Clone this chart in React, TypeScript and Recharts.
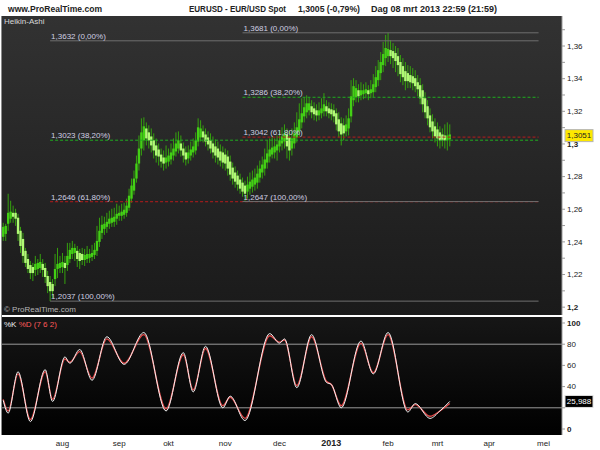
import { Bar, CartesianGrid, ComposedChart, Line, ReferenceLine, XAxis, YAxis } from 'recharts';

const FONT = '"Liberation Sans", Arial, sans-serif';

// Heikin-Ashi candles, daily, 28 jun 2012 .. 8 mrt 2013
const haOpen = [
  1.2431, 1.2449, 1.2511, 1.2542, 1.2578, 1.2578, 1.2548, 1.2468, 1.2418, 1.2345,
  1.2295, 1.2258, 1.2246, 1.2228, 1.2234, 1.224, 1.2265, 1.224, 1.2191, 1.2154,
  1.2142, 1.2172, 1.2234, 1.224, 1.2246, 1.2271, 1.2258, 1.2295, 1.2326, 1.2332,
  1.2345, 1.2332, 1.2326, 1.2289, 1.2295, 1.2302, 1.2308, 1.232, 1.2345, 1.24,
  1.2455, 1.248, 1.2492, 1.2511, 1.2517, 1.2523, 1.2542, 1.256, 1.256, 1.2566,
  1.2578, 1.2609, 1.2665, 1.2714, 1.2788, 1.288, 1.2972, 1.3022, 1.3095, 1.3071,
  1.3046, 1.3022, 1.2991, 1.2966, 1.2935, 1.2917, 1.2886, 1.2892, 1.2905, 1.2929,
  1.2954, 1.2972, 1.3003, 1.2972, 1.2948, 1.2911, 1.2929, 1.2948, 1.296, 1.3015,
  1.304, 1.3077, 1.3058, 1.304, 1.3022, 1.3003, 1.2985, 1.2972, 1.2954, 1.2948,
  1.2935, 1.2923, 1.2892, 1.2855, 1.2825, 1.2806, 1.2782, 1.2763, 1.2745, 1.2708,
  1.2726, 1.2738, 1.2751, 1.2763, 1.2794, 1.2825, 1.2849, 1.2886, 1.2923, 1.2935,
  1.2948, 1.296, 1.2985, 1.3003, 1.3015, 1.3058, 1.304, 1.2972, 1.3003, 1.304,
  1.3077, 1.3132, 1.3169, 1.3194, 1.3206, 1.3231, 1.3218, 1.3206, 1.3175, 1.3188,
  1.32, 1.3231, 1.3218, 1.3212, 1.3206, 1.3188, 1.3151, 1.3126, 1.3114, 1.3077,
  1.3095, 1.3169, 1.3268, 1.3286, 1.3329, 1.3298, 1.3305, 1.3311, 1.3329, 1.3311,
  1.3317, 1.3348, 1.3391, 1.3434, 1.3483, 1.3526, 1.3538, 1.3575, 1.3569, 1.3557,
  1.3538, 1.3502, 1.3477, 1.3446, 1.3434, 1.3422, 1.3415, 1.3403, 1.3378, 1.336,
  1.3329, 1.328, 1.3231, 1.3175, 1.3138, 1.3108, 1.3089, 1.3071, 1.3058, 1.3052,
  1.3022, 1.3028,
];
const haClose = [
  1.2492, 1.2498, 1.2578, 1.2585, 1.2554, 1.2542, 1.2449, 1.2375, 1.2314, 1.2271,
  1.2234, 1.2209, 1.2209, 1.2265, 1.2271, 1.2277, 1.2228, 1.2185, 1.2129, 1.2098,
  1.2098, 1.2234, 1.2265, 1.2271, 1.2277, 1.224, 1.2314, 1.2351, 1.2363, 1.2363,
  1.2295, 1.2283, 1.2289, 1.232, 1.2326, 1.2326, 1.2332, 1.2351, 1.2406, 1.2468,
  1.2505, 1.2511, 1.2523, 1.2542, 1.2548, 1.2554, 1.2572, 1.2578, 1.2585, 1.2597,
  1.2622, 1.2683, 1.2745, 1.2788, 1.288, 1.2972, 1.3071, 1.3108, 1.3034, 1.3022,
  1.2991, 1.296, 1.2929, 1.2923, 1.2892, 1.288, 1.2917, 1.2929, 1.2948, 1.2972,
  1.3003, 1.3022, 1.296, 1.2929, 1.2905, 1.2948, 1.2966, 1.2985, 1.3022, 1.3102,
  1.3095, 1.304, 1.3015, 1.2997, 1.2972, 1.2948, 1.2929, 1.2917, 1.2898, 1.2886,
  1.288, 1.2849, 1.2812, 1.2788, 1.2769, 1.2751, 1.2726, 1.2708, 1.2695, 1.2751,
  1.2769, 1.2782, 1.2794, 1.2818, 1.2849, 1.2874, 1.2905, 1.2942, 1.2966, 1.2978,
  1.2985, 1.2997, 1.3022, 1.3046, 1.3065, 1.2985, 1.296, 1.3034, 1.3065, 1.3102,
  1.3151, 1.3188, 1.3225, 1.3249, 1.3249, 1.3194, 1.3182, 1.3175, 1.3206, 1.3218,
  1.3243, 1.32, 1.3188, 1.3182, 1.3169, 1.312, 1.3077, 1.3058, 1.3065, 1.312,
  1.3157, 1.3292, 1.3354, 1.3342, 1.3292, 1.3329, 1.3329, 1.3335, 1.3305, 1.3335,
  1.3366, 1.3409, 1.3452, 1.3502, 1.3551, 1.3588, 1.3582, 1.3538, 1.3526, 1.3508,
  1.3483, 1.3428, 1.3409, 1.3385, 1.3385, 1.3378, 1.3372, 1.3354, 1.3335, 1.328,
  1.3243, 1.3194, 1.3157, 1.3102, 1.3077, 1.3046, 1.3034, 1.3022, 1.3022, 1.3022,
  1.3052, 1.3058,
];
const haHigh = [
  1.2517, 1.2511, 1.2695, 1.2652, 1.2622, 1.2603, 1.2572, 1.2492, 1.2455, 1.2363,
  1.2326, 1.2283, 1.2271, 1.2314, 1.2295, 1.2326, 1.2295, 1.2271, 1.2222, 1.2191,
  1.2172, 1.2326, 1.2363, 1.2314, 1.2332, 1.2314, 1.2394, 1.2394, 1.2406, 1.2388,
  1.2375, 1.2357, 1.2363, 1.2357, 1.2375, 1.2357, 1.2382, 1.2394, 1.2498, 1.2548,
  1.256, 1.2554, 1.2578, 1.2591, 1.2603, 1.2609, 1.2634, 1.2622, 1.2634, 1.264,
  1.2665, 1.2726, 1.2788, 1.2837, 1.2929, 1.3052, 1.3157, 1.3163, 1.3132, 1.3114,
  1.3095, 1.3065, 1.3034, 1.3003, 1.2972, 1.296, 1.2991, 1.2972, 1.3003, 1.3034,
  1.3071, 1.3077, 1.3052, 1.3009, 1.2985, 1.2991, 1.3015, 1.3034, 1.3071, 1.3157,
  1.3145, 1.3114, 1.3095, 1.3077, 1.3065, 1.3046, 1.3028, 1.3015, 1.2997, 1.2985,
  1.2972, 1.296, 1.2929, 1.2886, 1.2862, 1.2837, 1.2818, 1.2794, 1.2775, 1.28,
  1.2825, 1.2837, 1.2849, 1.2868, 1.2898, 1.2923, 1.2972, 1.3022, 1.3034, 1.3046,
  1.3034, 1.3052, 1.3083, 1.3102, 1.312, 1.3095, 1.3083, 1.3095, 1.3132, 1.3194,
  1.3249, 1.328, 1.3286, 1.3298, 1.3286, 1.3268, 1.3255, 1.3243, 1.3255, 1.328,
  1.3311, 1.3268, 1.3255, 1.3249, 1.3243, 1.3218, 1.3194, 1.3163, 1.3157, 1.3175,
  1.3218, 1.3391, 1.3403, 1.3391, 1.3366, 1.3378, 1.3366, 1.3378, 1.336, 1.3391,
  1.3428, 1.3477, 1.3514, 1.3563, 1.3625, 1.3668, 1.3681, 1.3637, 1.3618, 1.36,
  1.3588, 1.3545, 1.3526, 1.3502, 1.3483, 1.3477, 1.3465, 1.3452, 1.3422, 1.3403,
  1.3366, 1.3317, 1.3268, 1.3218, 1.3182, 1.3157, 1.3132, 1.3108, 1.3095, 1.312,
  1.3132, 1.312,
];
const haLow = [
  1.2406, 1.2406, 1.2468, 1.2517, 1.2517, 1.2498, 1.2406, 1.2332, 1.2271, 1.2246,
  1.2209, 1.2172, 1.216, 1.2191, 1.2197, 1.2209, 1.2185, 1.2148, 1.2086, 1.2037,
  1.2055, 1.2129, 1.2178, 1.2209, 1.2209, 1.2142, 1.2222, 1.2271, 1.2295, 1.2283,
  1.2246, 1.2234, 1.2258, 1.2252, 1.2271, 1.2271, 1.2283, 1.2295, 1.2314, 1.2369,
  1.2418, 1.2443, 1.2455, 1.248, 1.2492, 1.2492, 1.2505, 1.2529, 1.2529, 1.2542,
  1.2554, 1.2591, 1.264, 1.2689, 1.2763, 1.2837, 1.2929, 1.296, 1.2991, 1.2972,
  1.2948, 1.2911, 1.2886, 1.2868, 1.2855, 1.2837, 1.2849, 1.2862, 1.2874, 1.2898,
  1.2923, 1.2942, 1.2923, 1.2886, 1.2868, 1.288, 1.2898, 1.2917, 1.2935, 1.2985,
  1.3015, 1.3009, 1.2985, 1.296, 1.2942, 1.2911, 1.2886, 1.2874, 1.2862, 1.2849,
  1.2837, 1.2806, 1.2775, 1.2751, 1.2732, 1.2714, 1.2695, 1.2677, 1.2652, 1.2665,
  1.2689, 1.2702, 1.2714, 1.2726, 1.2763, 1.2788, 1.2806, 1.2849, 1.2886, 1.2911,
  1.2911, 1.2898, 1.2948, 1.296, 1.2972, 1.2911, 1.2898, 1.2929, 1.2972, 1.3009,
  1.3046, 1.3095, 1.3132, 1.3157, 1.3175, 1.3157, 1.3145, 1.3138, 1.3145, 1.3157,
  1.3169, 1.3169, 1.3157, 1.3145, 1.3132, 1.3083, 1.304, 1.2991, 1.3022, 1.3046,
  1.3052, 1.3132, 1.3231, 1.3255, 1.3255, 1.3268, 1.3274, 1.328, 1.3268, 1.328,
  1.3286, 1.3317, 1.3354, 1.3391, 1.344, 1.3477, 1.3502, 1.3489, 1.3465, 1.344,
  1.3415, 1.3378, 1.336, 1.3329, 1.3342, 1.3342, 1.3329, 1.3317, 1.3292, 1.3243,
  1.3194, 1.3157, 1.3114, 1.3071, 1.3034, 1.3009, 1.2985, 1.2972, 1.2985, 1.2972,
  1.296, 1.2985,
];

// Stochastic %K / %D (7 6 2), read at the turning points (bar index)
const stochIdx = [0, 2, 6, 11, 17, 20, 25, 27, 31, 36, 42, 49, 57, 66, 73, 77, 82, 89, 92, 98, 108, 112, 114, 119, 125, 131, 133, 137, 145, 150, 156, 164, 167, 173, 177, 181];
const stochK = [27, 15, 54, 7, 56, 26, 68, 62, 75, 46, 87, 61, 91, 17, 72, 35, 78, 20, 31, 8, 90, 81, 85, 39, 89, 44, 42, 20, 83, 52, 91, 16, 24, 10, 17, 26];
const stochD = [28, 17, 52, 9, 54, 28, 66, 63, 73, 48, 85, 62, 89, 19, 70, 37, 76, 22, 30, 10, 88, 82, 84, 41, 87, 45, 42, 22, 81, 53, 89, 18, 23, 12, 17, 24];

// first trading day of each month (bar index) and its label
const monthTicks = [24, 47, 67, 90, 112, 133, 156, 176, 197, 219];
const monthLabels = ['aug', 'sep', 'okt', 'nov', 'dec', '2013', 'feb', 'mrt', 'apr', 'mei'];

// Fibonacci retracements
const fibLevels = [1.3632, 1.3023, 1.2646, 1.2037, 1.3681, 1.3286, 1.3042, 1.2647];
const fibLabels = ['1,3632 (0,00%)', '1,3023 (38,20%)', '1,2646 (61,80%)', '1,2037 (100,00%)', '1,3681 (0,00%)', '1,3286 (38,20%)', '1,3042 (61,80%)', '1,2647 (100,00%)'];
const fibFrom = [19, 19, 19, 19, 97, 97, 97, 97];
const fibTo = [217, 217, 217, 217, 217, 217, 217, 217];

const priceTicks = [1.2, 1.21, 1.22, 1.23, 1.24, 1.25, 1.26, 1.27, 1.28, 1.29, 1.3, 1.31, 1.32, 1.33, 1.34, 1.35, 1.36, 1.37];
const stochTicks = [0, 20, 40, 60, 80, 100];
const stochLines = [80, 20];

const lastPrice = 1.3051;
const lastStoch = 25.988;
const SLOTS = 227; // bars + empty space up to mei

const rows = Array.from({ length: SLOTS }, (_, i) => {
  const row: any = { i };
  if (i < haOpen.length) {
    row.o = haOpen[i];
    row.c = haClose[i];
    row.h = haHigh[i];
    row.l = haLow[i];
    row.range = [haLow[i], haHigh[i]];
  }
  const s = stochIdx.indexOf(i);
  if (s >= 0) {
    row.k = stochK[s];
    row.d = stochD[s];
  }
  return row;
});

const Candle = (props: any) => {
  const { x, y, width, height, payload } = props;
  if (!payload || payload.h == null || !isFinite(y) || !isFinite(height)) return null;
  const top = Math.min(y, y + height);
  const full = Math.abs(height);
  const k = full / (payload.h - payload.l || 1);
  const bTop = top + (payload.h - Math.max(payload.o, payload.c)) * k;
  const bBot = top + (payload.h - Math.min(payload.o, payload.c)) * k;
  const cx = x + width / 2;
  const bull = payload.c >= payload.o;
  return (
    <g>
      <line x1={cx} x2={cx} y1={top} y2={top + full} stroke="#35a10e" strokeWidth={1} />
      <rect x={cx - 1.2} y={bTop} width={2.4} height={Math.max(1, bBot - bTop)} fill={bull ? '#43d015' : '#b0fa74'} />
    </g>
  );
};

const PriceTick = (props: any) => {
  const { x, y, payload } = props;
  const v = payload.value as number;
  const cents = Math.round(v * 100);
  if (cents % 2 !== 0) return null;
  const txt = v.toFixed(2).replace(/0$/, '').replace('.', ',');
  return (
    <text x={x} y={y} dy="0.35em" fontSize={8} fontFamily={FONT} fill="#222" fontWeight={cents % 10 === 0 ? 'bold' : 'normal'}>
      {txt}
    </text>
  );
};

const StochTick = (props: any) => {
  const { x, y, payload } = props;
  const v = payload.value as number;
  // the 20 label sits under the last-value tag, as in the original
  if (Math.abs(v - lastStoch) < 8) return null;
  return (
    <text x={x} y={y} dy="0.35em" fontSize={8} fontFamily={FONT} fill="#222" fontWeight={v === 0 || v === 100 ? 'bold' : 'normal'}>
      {v}
    </text>
  );
};

const MonthTick = (props: any) => {
  const { x, y, payload } = props;
  const label = monthLabels[monthTicks.indexOf(payload.value)];
  const bold = label === '2013';
  return (
    <text x={x} y={y} dy="0.71em" textAnchor="middle" fontSize={bold ? 9 : 8} fontFamily={FONT} fill="#222" fontWeight={bold ? 'bold' : 'normal'}>
      {label}
    </text>
  );
};

const fibStyle = (label: string) => {
  if (label.includes('38,20')) return { stroke: '#1fae1f', dash: '3 2' };
  if (label.includes('61,80')) return { stroke: '#b81c1c', dash: '3 2' };
  return { stroke: '#6e6e6e', dash: undefined };
};

const tagLabel = (text: string, fill: string, color: string, border: string) => (p: any) => {
  const vb = p.viewBox;
  if (!vb) return null;
  const x = vb.x + vb.width + 3;
  return (
    <g>
      <rect x={x} y={vb.y - 6} width={28} height={12} fill={fill} stroke={border} strokeWidth={1} />
      <text x={x + 14} y={vb.y} dy="0.35em" textAnchor="middle" fontSize={8} fontFamily={FONT} fill={color}>
        {text}
      </text>
    </g>
  );
};

export default function App() {
  return (
    <div style={{ position: 'fixed', left: 0, top: 0, width: 600, height: 450, background: '#fff', fontFamily: FONT, overflow: 'hidden' }}>
      <svg width={600} height={16} style={{ position: 'absolute', left: 0, top: 0 }}>
        <text x={8} y={12} fontSize={9} fontWeight="bold" fill="#222" textLength={94} lengthAdjust="spacingAndGlyphs">www.ProRealTime.com</text>
        <text x={189} y={12} fontSize={9} fontWeight="bold" fill="#222" textLength={97} lengthAdjust="spacingAndGlyphs">EURUSD - EUR/USD Spot</text>
        <text x={298} y={12} fontSize={9} fontWeight="bold" fill="#222" textLength={62} lengthAdjust="spacingAndGlyphs">1,3005 (-0,79%)</text>
        <text x={371} y={12} fontSize={9} fontWeight="bold" fill="#222" textLength={126} lengthAdjust="spacingAndGlyphs">Dag 08 mrt 2013 22:59 (21:59)</text>
      </svg>

      <div style={{ position: 'absolute', left: 0, top: 16 }}>
        <ComposedChart width={600} height={299} data={rows} margin={{ top: 0, right: 0, bottom: 0, left: 2 }}>
          <defs>
            <linearGradient id="mainBg" x1="0" y1="0" x2="0" y2="1">
              <stop offset="0%" stopColor="#323232" />
              <stop offset="100%" stopColor="#1a1a1a" />
            </linearGradient>
          </defs>
          <CartesianGrid horizontal={false} vertical={false} fill="url(#mainBg)" />
          <XAxis dataKey="i" type="category" hide />
          <YAxis
            orientation="right"
            width={38}
            domain={[1.1952, 1.3784]}
            type="number"
            ticks={priceTicks}
            interval={0}
            allowDataOverflow
            tick={<PriceTick />}
            tickSize={3}
            tickMargin={2}
            axisLine={{ stroke: '#9a9a9a' }}
            tickLine={{ stroke: '#9a9a9a' }}
          />
          {fibLevels.map((lv, n) => {
            const st = fibStyle(fibLabels[n]);
            return (
              <ReferenceLine
                key={`fib-${n}`}
                segment={[{ x: fibFrom[n], y: lv }, { x: fibTo[n], y: lv }]}
                stroke={st.stroke}
                strokeDasharray={st.dash}
                strokeWidth={1}
                label={(p: any) =>
                  p.viewBox ? (
                    <text x={p.viewBox.x + 1} y={p.viewBox.y - 2} fontSize={8} fontFamily={FONT} fill="#cfcfe2">
                      {fibLabels[n]}
                    </text>
                  ) : null
                }
              />
            );
          })}
          <Bar dataKey="range" shape={<Candle />} isAnimationActive={false} />
          <ReferenceLine y={lastPrice} stroke="none" label={tagLabel('1,3051', '#fde800', '#222', '#b5b5b5')} />
        </ComposedChart>
      </div>

      <div style={{ position: 'absolute', left: 4, top: 17, fontSize: 8, color: '#d8d8d8', lineHeight: '10px' }}>Heikin-Ashi</div>
      <div style={{ position: 'absolute', left: 4, top: 305, fontSize: 8, color: '#b5b5b5', lineHeight: '10px' }}>© ProRealTime.com</div>

      <div style={{ position: 'absolute', left: 0, top: 317 }}>
        <ComposedChart width={600} height={133} data={rows} margin={{ top: 0, right: 0, bottom: 0, left: 2 }}>
          <defs>
            <linearGradient id="stochBg" x1="0" y1="0" x2="0" y2="1">
              <stop offset="0%" stopColor="#161616" />
              <stop offset="100%" stopColor="#000000" />
            </linearGradient>
          </defs>
          <CartesianGrid horizontal={false} vertical={false} fill="url(#stochBg)" />
          <XAxis
            dataKey="i"
            type="category"
            scale="band"
            ticks={monthTicks}
            interval={0}
            tick={<MonthTick />}
            tickLine={false}
            axisLine={false}
            tickSize={0}
            tickMargin={5}
            height={15}
          />
          <YAxis
            orientation="right"
            width={38}
            domain={[-5.66, 105.66]}
            type="number"
            ticks={stochTicks}
            interval={0}
            allowDataOverflow
            tick={<StochTick />}
            tickSize={3}
            tickMargin={2}
            axisLine={{ stroke: '#9a9a9a' }}
            tickLine={{ stroke: '#9a9a9a' }}
          />
          {stochLines.map((v) => (
            <ReferenceLine key={`sl-${v}`} y={v} stroke="#9a9a9a" strokeWidth={1} />
          ))}
          <Line dataKey="d" type="monotone" stroke="#e04848" strokeWidth={1.4} dot={false} connectNulls isAnimationActive={false} />
          <Line dataKey="k" type="monotone" stroke="#f2f2f2" strokeWidth={1} dot={false} connectNulls isAnimationActive={false} />
          <ReferenceLine y={lastStoch} stroke="none" label={tagLabel('25,988', '#000', '#fff', '#e0e0e0')} />
        </ComposedChart>
      </div>

      <div style={{ position: 'absolute', left: 4, top: 320, fontSize: 8, lineHeight: '10px' }}>
        <span style={{ color: '#f0f0f0' }}>%K </span>
        <span style={{ color: '#ff5a5a' }}>%D (7 6 2)</span>
      </div>
      <div style={{ position: 'absolute', left: 1, top: 16, width: 1, height: 419, background: '#8a8a8a' }} />
    </div>
  );
}
